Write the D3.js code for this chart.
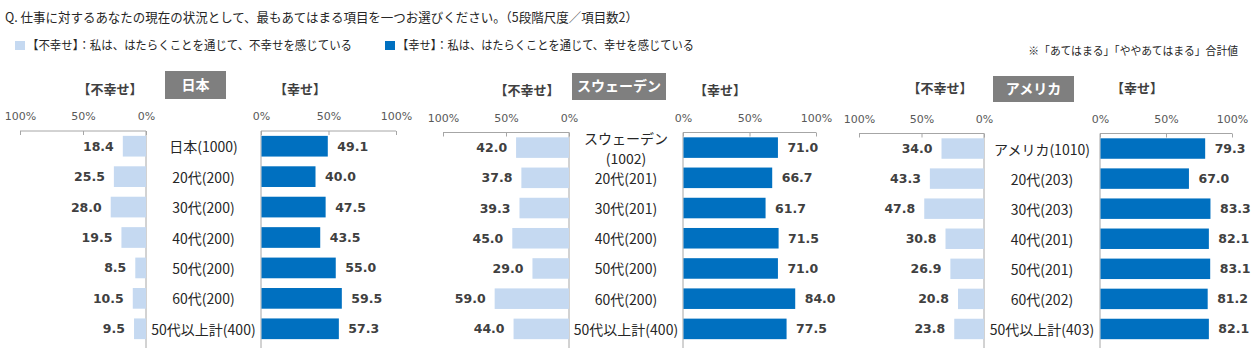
<!DOCTYPE html>
<html><head><meta charset="utf-8">
<script src="https://cdn.jsdelivr.net/npm/d3@7"></script>
<style>
body{margin:0;background:#fff;}
svg{display:block;}
</style></head>
<body>
<svg id="chart" width="1260" height="360"></svg>
<script>
// ---- data ----
const title = "Q. 仕事に対するあなたの現在の状況として、最もあてはまる項目を一つお選びください。（5段階尺度／項目数2）";
const legendUnhappy = "【不幸せ】：私は、はたらくことを通じて、不幸せを感じている";
const legendHappy = "【幸せ】：私は、はたらくことを通じて、幸せを感じている";
const note = "※「あてはまる」「ややあてはまる」合計値";
const countries = ["日本", "スウェーデン", "アメリカ"];
const sideLabels = ["【不幸せ】", "【幸せ】"];
const tickValues = [0, 50, 100];

const jpCats = ["日本(1000)", "20代(200)", "30代(200)", "40代(200)", "50代(200)", "60代(200)", "50代以上計(400)"];
const jpUnhappy = [18.4, 25.5, 28.0, 19.5, 8.5, 10.5, 9.5];
const jpHappy = [49.1, 40.0, 47.5, 43.5, 55.0, 59.5, 57.3];

const seCats = ["スウェーデン\n(1002)", "20代(201)", "30代(201)", "40代(200)", "50代(200)", "60代(200)", "50代以上計(400)"];
const seUnhappy = [42.0, 37.8, 39.3, 45.0, 29.0, 59.0, 44.0];
const seHappy = [71.0, 66.7, 61.7, 71.5, 71.0, 84.0, 77.5];

const usCats = ["アメリカ(1010)", "20代(203)", "30代(203)", "40代(201)", "50代(201)", "60代(202)", "50代以上計(403)"];
const usUnhappy = [34.0, 43.3, 47.8, 30.8, 26.9, 20.8, 23.8];
const usHappy = [79.3, 67.0, 83.3, 82.1, 83.1, 81.2, 82.1];

// ---- layout ----
const panels = [
  {name: countries[0], cats: jpCats, un: jpUnhappy, ha: jpHappy,
   L: [146, 20], R: [261, 396], top: 131, box: [165, 71, 61, 28], unX: 110, haX: 300, hdrY: 90},
  {name: countries[1], cats: seCats, un: seUnhappy, ha: seHappy,
   L: [569, 443], R: [683, 816], top: 132.5, box: [572, 73, 94, 27], unX: 527, haX: 720, hdrY: 91},
  {name: countries[2], cats: usCats, un: usUnhappy, ha: usHappy,
   L: [984, 859], R: [1100, 1232], top: 133.5, box: [993, 76, 81, 26], unX: 940, haX: 1137, hdrY: 89}
];
const bottom = 348;
const cLight = "#C5D9F1", cDark = "#0070C0", cText = "#404040", cAxis = "#A6A6A6";
const jpFont = "'Noto Sans CJK JP','Noto Sans',sans-serif";
const numFont = "'DejaVu Sans',Verdana,sans-serif";
const fmt = d3.format(".1f");

const svg = d3.select("#chart");

svg.append("text").attr("x", 5).attr("y", 22).attr("font-family", jpFont)
  .attr("font-size", 12.7).attr("fill", "#262626")
  .attr("textLength", 633).attr("lengthAdjust", "spacingAndGlyphs").text(title);

svg.append("rect").attr("x", 15).attr("y", 41).attr("width", 10).attr("height", 9).attr("fill", cLight);
svg.append("text").attr("x", 27).attr("y", 50).attr("font-family", jpFont)
  .attr("font-size", 12).attr("fill", "#262626")
  .attr("textLength", 325).attr("lengthAdjust", "spacingAndGlyphs").text(legendUnhappy);
svg.append("rect").attr("x", 385).attr("y", 41).attr("width", 10).attr("height", 9).attr("fill", cDark);
svg.append("text").attr("x", 397).attr("y", 50).attr("font-family", jpFont)
  .attr("font-size", 12).attr("fill", "#262626")
  .attr("textLength", 297).attr("lengthAdjust", "spacingAndGlyphs").text(legendHappy);
svg.append("text").attr("x", 1238).attr("y", 55).attr("text-anchor", "end").attr("font-family", jpFont)
  .attr("font-size", 10.8).attr("fill", "#262626").text(note);

panels.forEach(p => {
  const g = svg.append("g");
  const xL = d3.scaleLinear().domain([0, 100]).range(p.L);
  const xR = d3.scaleLinear().domain([0, 100]).range(p.R);
  const y = d3.scaleBand().domain(p.cats).range([p.top, bottom - 4]).paddingInner(0.32).paddingOuter(0.16);

  // header
  g.append("rect").attr("x", p.box[0]).attr("y", p.box[1]).attr("width", p.box[2]).attr("height", p.box[3])
    .attr("fill", "#7F7F7F");
  g.append("text").attr("x", p.box[0] + p.box[2] / 2).attr("y", p.box[1] + p.box[3] / 2 + 1)
    .attr("text-anchor", "middle").attr("dominant-baseline", "middle")
    .attr("font-family", jpFont).attr("font-weight", "bold").attr("font-size", 14).attr("fill", "#fff").text(p.name);
  g.append("text").attr("x", p.unX).attr("y", p.hdrY).attr("text-anchor", "middle").attr("dominant-baseline", "middle")
    .attr("font-family", jpFont).attr("font-weight", "bold").attr("font-size", 13).attr("fill", cText).text(sideLabels[0]);
  g.append("text").attr("x", p.haX).attr("y", p.hdrY).attr("text-anchor", "middle").attr("dominant-baseline", "middle")
    .attr("font-family", jpFont).attr("font-weight", "bold").attr("font-size", 13).attr("fill", cText).text(sideLabels[1]);

  // axes
  [xL, xR].forEach(sc => {
    const ax = g.append("g").attr("transform", `translate(0,${p.top})`)
      .call(d3.axisTop(sc).tickValues(tickValues).tickFormat(d => d + "%").tickSizeInner(-4).tickSizeOuter(-4).tickPadding(11));
    ax.selectAll("path,line").attr("stroke", cAxis);
    ax.selectAll("text").attr("font-family", numFont).attr("font-size", 11).attr("fill", "#595959");
    ax.select(".domain").attr("d", `M${sc.range()[0]},0H${sc.range()[1]}`);
    g.append("line").attr("x1", sc(0)).attr("x2", sc(0)).attr("y1", p.top).attr("y2", bottom).attr("stroke", cAxis);
  });

  // bars
  const rows = p.cats.map((c, i) => ({c, un: p.un[i], ha: p.ha[i]}));
  g.selectAll(".bu").data(rows).join("rect")
    .attr("x", d => xL(d.un)).attr("y", d => y(d.c)).attr("width", d => xL(0) - xL(d.un)).attr("height", y.bandwidth())
    .attr("fill", cLight);
  g.selectAll(".bh").data(rows).join("rect")
    .attr("x", d => xR(0) + 0.5).attr("y", d => y(d.c)).attr("width", d => xR(d.ha) - xR(0)).attr("height", y.bandwidth())
    .attr("fill", cDark);

  // value labels
  g.selectAll(".lu").data(rows).join("text")
    .attr("x", d => xL(d.un) - 9).attr("y", d => y(d.c) + y.bandwidth() / 2)
    .attr("text-anchor", "end").attr("dominant-baseline", "central")
    .attr("font-family", numFont).attr("font-weight", "bold").attr("font-size", 12.5).attr("fill", cText)
    .text(d => fmt(d.un));
  g.selectAll(".lh").data(rows).join("text")
    .attr("x", d => xR(d.ha) + 10).attr("y", d => y(d.c) + y.bandwidth() / 2)
    .attr("text-anchor", "start").attr("dominant-baseline", "central")
    .attr("font-family", numFont).attr("font-weight", "bold").attr("font-size", 12.5).attr("fill", cText)
    .text(d => fmt(d.ha));

  // category labels
  const cx = (xL(0) + xR(0)) / 2;
  rows.forEach(d => {
    const lines = d.c.split("\n");
    const yc = y(d.c) + y.bandwidth() / 2;
    lines.forEach((ln, k) => {
      g.append("text").attr("x", cx).attr("y", yc + (k - (lines.length - 1) / 2) * 20)
        .attr("text-anchor", "middle").attr("dominant-baseline", "central")
        .attr("font-family", jpFont).attr("font-size", 14).attr("fill", "#262626").text(ln);
    });
  });
});
</script>
</body></html>
